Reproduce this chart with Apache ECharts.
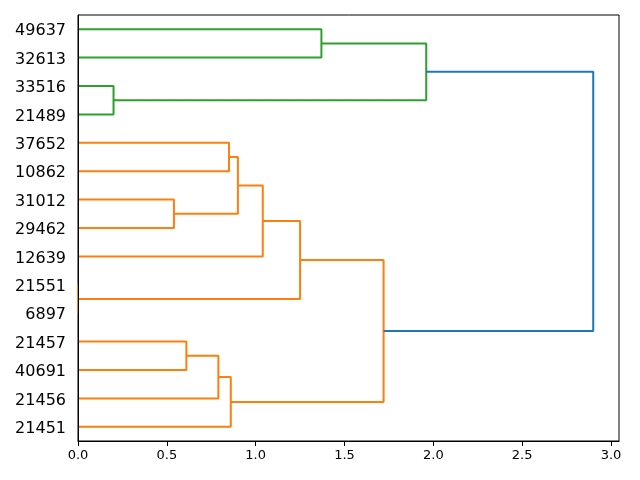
<!DOCTYPE html>
<html>
<head>
<meta charset="utf-8">
<script src="https://cdn.jsdelivr.net/npm/echarts@6/dist/echarts.min.js"></script>
<style>html,body{margin:0;padding:0;background:#fff}#c{width:640px;height:480px}</style>
</head>
<body>
<div id="c"></div>
<script>
// Leaves, bottom to top
const leaves = ['21451','21456','40691','21457','6897','21551','12639','29462','31012','10862','37652','21489','33516','32613','49637'];
// Merges: [child A, child B, height]; new clusters get ids 15, 16, ...
const merges = [
  [2, 3, 0.61],
  [1, 15, 0.79],
  [0, 16, 0.86],
  [4, 5, 0.0],
  [7, 8, 0.54],
  [9, 10, 0.85],
  [19, 20, 0.90],
  [6, 21, 1.04],
  [18, 22, 1.25],
  [17, 23, 1.72],
  [11, 12, 0.20],
  [13, 14, 1.37],
  [25, 26, 1.96],
  [24, 27, 2.90]
];
const palette = ['#ff7f0e', '#2ca02c', '#9467bd', '#8c564b'];
const aboveColor = '#1f77b4';
const xTicks = [0, 0.5, 1, 1.5, 2, 2.5, 3];

const n = leaves.length;
const pos = [], hgt = [];
for (let i = 0; i < n; i++) { pos.push(5 + 10 * i); hgt.push(0); }
merges.forEach(m => { pos.push((pos[m[0]] + pos[m[1]]) / 2); hgt.push(m[2]); });
const maxH = Math.max(...merges.map(m => m[2]));
const thr = 0.7 * maxH;
const col = {};
let ci = 0;
function assign(id, c) {
  if (id < n) return;
  const m = merges[id - n];
  let cc = c;
  if (cc === null && m[2] < thr) { cc = palette[ci++ % palette.length]; }
  col[id] = cc === null ? aboveColor : cc;
  assign(m[0], cc); assign(m[1], cc);
}
assign(n + merges.length - 1, null);

const series = merges.map((m, k) => {
  const id = n + k;
  const a = m[0], b = m[1];
  return {
    type: 'line', yAxisIndex: 1, symbol: 'none', silent: true, animation: false, z: 2,
    lineStyle: { color: col[id], width: 2 },
    data: [[hgt[a], pos[a]], [m[2], pos[a]], [m[2], pos[b]], [hgt[b], pos[b]]]
  };
});

const chart = echarts.init(document.getElementById('c'));
chart.setOption({
  animation: false,
  grid: { left: 78, right: 21, top: 15, bottom: 39, show: true, borderColor: '#000', borderWidth: 1, backgroundColor: 'transparent' },
  xAxis: {
    type: 'value', min: 0, max: maxH * 1.05, interval: 0.5, z: 10,
    axisLine: { show: true, lineStyle: { color: '#000', width: 1 } },
    axisTick: { show: true, length: 5, lineStyle: { color: '#000' } },
    splitLine: { show: false },
    axisLabel: { color: '#000', fontSize: 13, fontFamily: 'DejaVu Sans', margin: 8, showMaxLabel: false,
      formatter: v => xTicks.some(t => Math.abs(t - v) < 1e-9) ? v.toFixed(1) : '' }
  },
  yAxis: [
    { type: 'category', data: leaves, boundaryGap: true, z: 10,
      axisLine: { show: false }, axisTick: { show: false }, splitLine: { show: false },
      axisLabel: { margin: 12, formatter: v => '{a|' + v + '}',
        rich: { a: { color: '#000', fontSize: 16, fontFamily: 'DejaVu Sans', padding: [4, 0, 0, 0] } } } },
    { type: 'value', min: 0, max: 10 * n, position: 'left', z: 10,
      axisLine: { show: true, lineStyle: { color: '#000', width: 1 } },
      axisTick: { show: false }, axisLabel: { show: false }, splitLine: { show: false } }
  ],
  series: series
});
</script>
</body>
</html>
